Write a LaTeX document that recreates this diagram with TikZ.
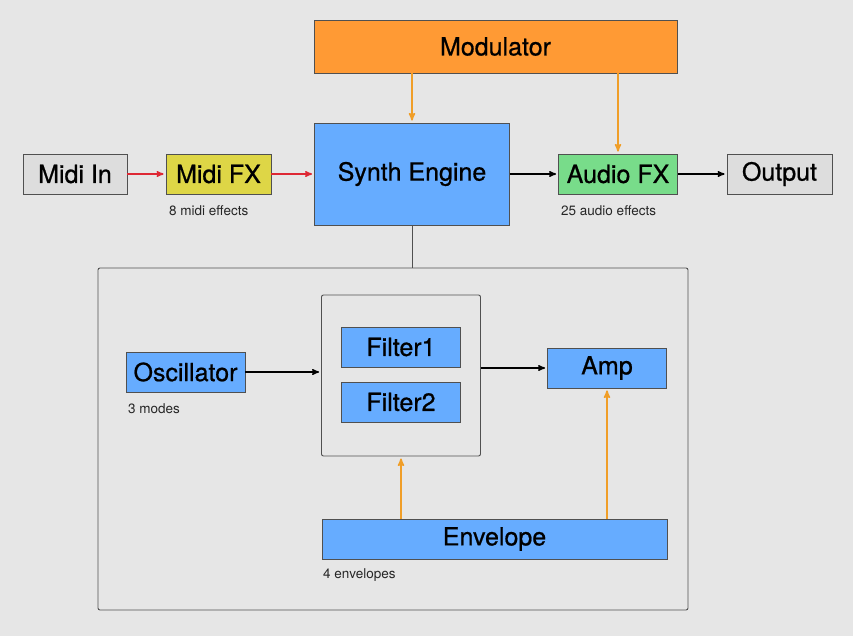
\documentclass[tikz,border=0pt]{standalone}
\usepackage{fontspec}
\setmainfont{TeX Gyre Heros}
\newfontfamily\blockfont{TeX Gyre Heros}[FakeBold=0.7]
\usetikzlibrary{arrows,positioning,calc}
\definecolor{bggray}{RGB}{230,230,230}
\definecolor{boxgray}{RGB}{221,221,221}
\definecolor{modorange}{RGB}{255,154,52}
\definecolor{synthblue}{RGB}{102,172,255}
\definecolor{fxyellow}{RGB}{222,214,70}
\definecolor{fxgreen}{RGB}{120,220,138}
\definecolor{modline}{RGB}{240,158,40}
\definecolor{midired}{RGB}{222,40,52}
\definecolor{edgegray}{RGB}{80,80,80}
\tikzset{block/.style={ % Sets the properties for each block
            draw=edgegray,
            line width=0.8pt,
            inner sep=0pt,
            font=\blockfont\fontsize{25}{28}\selectfont},
        frame/.style={ % Grouping frames
            draw=edgegray,
            line width=0.9pt,
            rounded corners=2pt,
            inner sep=0pt},
        note/.style={ % Small text below a block
            inner sep=0pt,
            anchor=west,
            text=black!85,
            font=\fontsize{13.5}{15}\selectfont},
        every edge/.style={ % Sets the properties for each connector
            draw,
            ->,>=stealth', % Makes edges directed with bold arrowheads
            line width=1.4pt,
            shorten >=2pt},
        midi/.style={draw=midired},
        mod/.style={draw=modline, line width=1.6pt, ->, >=stealth', shorten >=2pt}
        }

\begin{document}
\begin{tikzpicture}[x=1pt,y=-1pt]
    \fill[bggray] (0,0) rectangle (853,636);

    % top row
    \node[block, fill=modorange, minimum width=363, minimum height=53] (modulator) at (495.5,46.5) {Modulator};
    \node[block, fill=synthblue, minimum width=195, minimum height=102] (synth) at (412,174) {Synth Engine};
    \node[block, fill=boxgray, minimum width=104, minimum height=40] (midiin) at (75,174) {Midi In};
    \node[block, fill=fxyellow, minimum width=105, minimum height=40] (midifx) at (218.5,174) {Midi FX};
    \node[block, fill=fxgreen, minimum width=119, minimum height=40] (audiofx) at (618,174) {Audio FX};
    \node[block, fill=boxgray, minimum width=105, minimum height=40] (output) at (779.5,174) {Output};
    \node[note] (midinote) at (169,211) {8 midi effects};
    \node[note] (audionote) at (561,211) {25 audio effects};

    % synth engine detail
    \node[frame, minimum width=590, minimum height=342] (engine) at (393,439) {};
    \node[frame, minimum width=159, minimum height=161] (filters) at (401,375.5) {};
    \node[block, fill=synthblue, minimum width=119, minimum height=40] (filter1) at (401,347) {Filter1};
    \node[block, fill=synthblue, minimum width=119, minimum height=40] (filter2) at (401,402) {Filter2};
    \node[block, fill=synthblue, minimum width=119, minimum height=40] (osc) at (185.5,372) {Oscillator};
    \node[block, fill=synthblue, minimum width=119, minimum height=40] (amp) at (607,368) {Amp};
    \node[block, fill=synthblue, minimum width=345, minimum height=40] (envelope) at (494.5,539) {Envelope};
    \node[note] (oscnote) at (128,409) {3 modes};
    \node[note] (envnote) at (323,575) {4 envelopes};

    \draw
        (midiin) edge [midi] (midifx)
        (midifx) edge [midi] (synth)
        (synth) edge (audiofx)
        (audiofx) edge (output)
        (osc) edge (osc -| filters.west)
        (filters.east |- amp) edge (amp);
    % modulation paths
    \draw[mod] (modulator.south -| synth) -- (synth.north);
    \draw[mod] (modulator.south -| audiofx) -- (audiofx.north);
    \draw[mod] (envelope.north -| filters) -- (filters.south);
    \draw[mod] (envelope.north -| amp) -- (amp.south);
    \draw[edgegray, line width=1pt] (synth.south) -- (synth.south |- engine.north);
\end{tikzpicture}
\end{document}
